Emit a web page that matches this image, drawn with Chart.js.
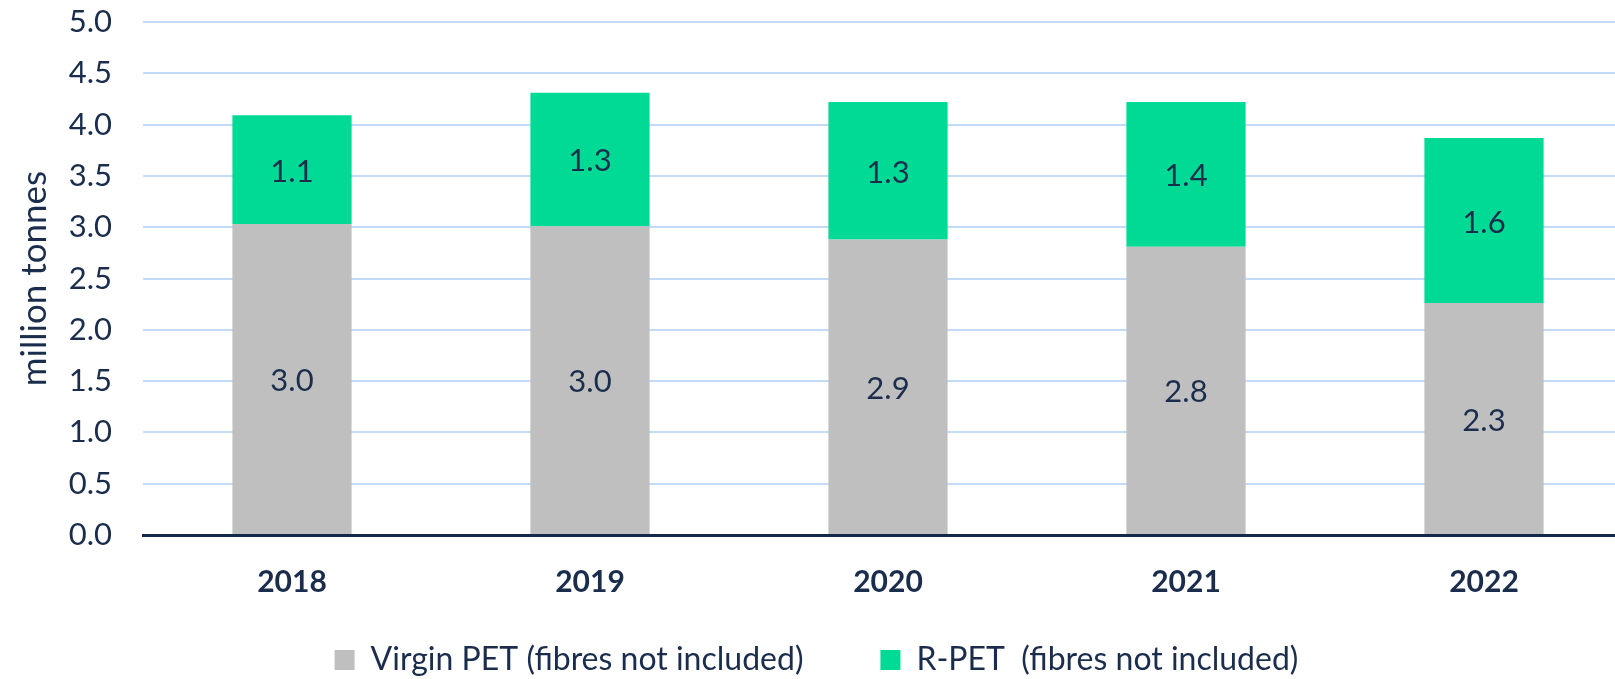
<!DOCTYPE html>
<html>
<head>
<meta charset="utf-8">
<script src="https://cdn.jsdelivr.net/npm/chart.js@4/dist/chart.umd.min.js"></script>
<style>
  html, body { margin: 0; padding: 0; background: #ffffff; overflow: hidden; }
  #wrap { position: relative; width: 1633px; height: 679px; }
</style>
</head>
<body>
<div id="wrap"><canvas id="canvas"></canvas></div>
<script>
//****DATA****//

var years = ['2018', '2019', '2020', '2021', '2022'];
var virginPet = [3.03, 3.01, 2.88, 2.81, 2.26];
var rPet = [1.06, 1.30, 1.34, 1.41, 1.61];
var seriesNames = ['Virgin PET (fibres not included)', 'R-PET  (fibres not included)'];
var yTicks = [0, 0.5, 1, 1.5, 2, 2.5, 3, 3.5, 4, 4.5, 5];

//****STYLE****//

var navy = '#1b2d4c';
var fontName = 'Lato, "Open Sans", sans-serif';

//****VALUE LABELS****//

var valueLabels = {
  id: 'valueLabels',
  afterDatasetsDraw: function (chart) {
    var ctx = chart.ctx;
    ctx.save();
    ctx.font = '31px ' + fontName;
    ctx.fillStyle = navy;
    ctx.textAlign = 'center';
    ctx.textBaseline = 'middle';
    chart.data.datasets.forEach(function (ds, i) {
      var meta = chart.getDatasetMeta(i);
      meta.data.forEach(function (bar, j) {
        var p = bar.getProps(['x', 'y', 'base'], true);
        ctx.fillText(ds.data[j].toFixed(1), p.x, (p.y + p.base) / 2 + 2);
      });
    });
    ctx.restore();
  }
};

//****CHART****//

var ctx = document.getElementById('canvas').getContext('2d');

var chart = new Chart(ctx, {
  type: 'bar',
  data: {
    labels: years,
    datasets: [
      {
        label: seriesNames[0],
        data: virginPet,
        backgroundColor: '#bfbfbf',
        barPercentage: 0.4,
        categoryPercentage: 1
      },
      {
        label: seriesNames[1],
        data: rPet,
        backgroundColor: '#00da94',
        barPercentage: 0.4,
        categoryPercentage: 1
      }
    ]
  },
  options: {
    responsive: true,
    maintainAspectRatio: false,
    animation: false,
    layout: { padding: { top: 22, bottom: -7, left: 0, right: 0 } },
    plugins: {
      tooltip: { enabled: false },
      legend: {
        position: 'bottom',
        labels: {
          boxWidth: 20,
          boxHeight: 20,
          padding: 77,
          color: navy,
          font: { family: fontName, size: 32 }
        }
      }
    },
    scales: {
      x: {
        stacked: true,
        grid: { display: false, drawTicks: false },
        border: { display: true, color: '#13294b', width: 3 },
        // mirrored so the labels are not clipped to the short axis box
        ticks: {
          mirror: true,
          padding: -65,
          color: navy,
          font: { family: fontName, size: 30, weight: 'bold' }
        },
        afterFit: function (scale) { scale.height = 32; }
      },
      y: {
        stacked: true,
        min: 0,
        max: 5,
        afterBuildTicks: function (scale) {
          scale.ticks = yTicks.map(function (v) { return { value: v }; });
        },
        grid: {
          color: '#c3dbf6',
          lineWidth: 2,
          drawTicks: true,
          tickLength: 31,
          tickColor: 'rgba(0,0,0,0)'
        },
        border: { display: false },
        ticks: {
          padding: 0,
          color: navy,
          font: { family: fontName, size: 31 },
          callback: function (v) { return Number(v).toFixed(1); }
        },
        title: {
          display: true,
          text: 'million tonnes',
          color: navy,
          padding: { top: 14, bottom: 0 },
          font: { family: fontName, size: 35 }
        },
        afterFit: function (scale) { scale.width = 143; }
      }
    }
  },
  plugins: [valueLabels]
});
</script>
</body>
</html>
